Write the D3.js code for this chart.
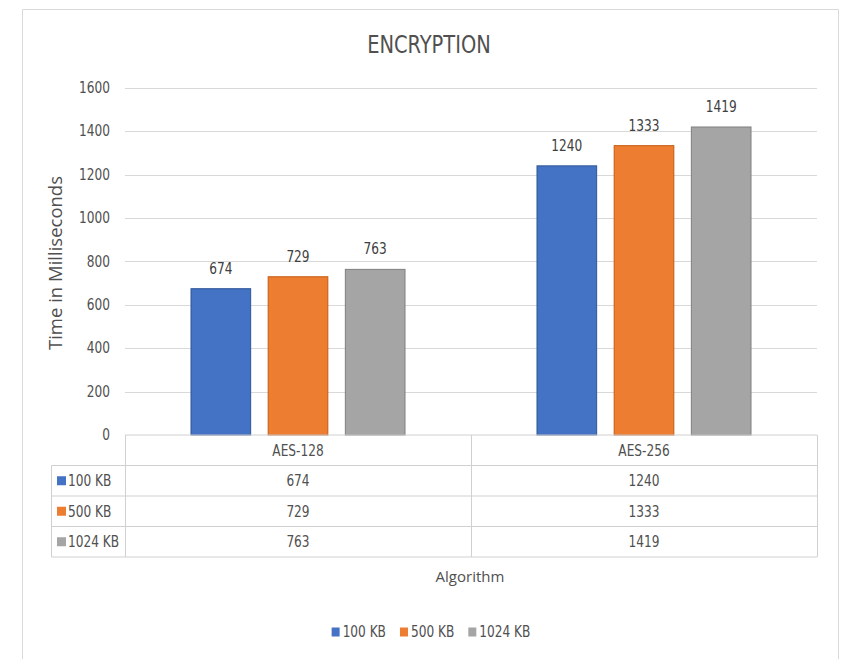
<!DOCTYPE html>
<html>
<head>
<meta charset="utf-8">
<script src="https://cdn.jsdelivr.net/npm/d3@7"></script>
<style>
  body { margin: 0; background: #fff; }
  svg { display: block; }
  .narrow { font-family: "DejaVu Sans Condensed", "Liberation Sans Narrow", sans-serif; font-stretch: condensed; }
  .lbl { fill: #505050; }
  .axis-title { font-family: "Open Sans", "Liberation Sans", sans-serif; fill: #505050; }
</style>
</head>
<body>
<svg id="chart" width="841" height="659"></svg>
<script>
(function () {
  "use strict";

  // data
  const categories = ["AES-128", "AES-256"];
  const seriesNames = ["100 KB", "500 KB", "1024 KB"];
  const values100  = [674, 1240];
  const values500  = [729, 1333];
  const values1024 = [763, 1419];
  const colors  = ["#4472C4", "#ED7D31", "#A5A5A5"];
  const strokes = ["#2F5597", "#C55A11", "#7F7F7F"];

  const series = seriesNames.map((name, i) => ({
    name,
    color: colors[i],
    stroke: strokes[i],
    values: [values100, values500, values1024][i]
  }));

  const svg = d3.select("#chart");

  // outer chart frame
  svg.append("path")
    .attr("d", "M22.5,659 V9.5 H838.5 V659")
    .attr("fill", "none")
    .attr("stroke", "#D9D9D9")
    .attr("stroke-width", 1);

  const left = 125, right = 817, top = 87.7, bottom = 435;

  const x0 = d3.scaleBand().domain(categories).range([left, right]);
  const groupW = 214;
  const x1 = d3.scaleBand().domain(seriesNames).range([0, groupW]).paddingInner(0.227);
  const groupOff = (x0.bandwidth() - groupW) / 2;

  const y = d3.scaleLinear().domain([0, 1600]).range([bottom, top]);

  // gridlines
  svg.append("g")
    .selectAll("line")
    .data(y.ticks(8).filter(d => d > 0))
    .join("line")
    .attr("x1", left).attr("x2", right)
    .attr("y1", d => Math.round(y(d)) + 0.5)
    .attr("y2", d => Math.round(y(d)) + 0.5)
    .attr("stroke", "#D9D9D9");

  // y tick labels
  svg.append("g")
    .selectAll("text")
    .data(y.ticks(8))
    .join("text")
    .attr("class", "narrow lbl")
    .attr("x", 110)
    .attr("y", d => y(d))
    .attr("dy", "0.35em")
    .attr("text-anchor", "end")
    .style("font-size", "15px")
    .text(d => d);

  // bars
  const groups = svg.append("g")
    .selectAll("g")
    .data(series)
    .join("g");

  groups.selectAll("rect")
    .data(s => s.values.map((v, j) => ({ s, v, cat: categories[j] })))
    .join("rect")
    .attr("x", d => x0(d.cat) + groupOff + x1(d.s.name))
    .attr("y", d => y(d.v))
    .attr("width", x1.bandwidth())
    .attr("height", d => y(0) - y(d.v))
    .attr("fill", d => d.s.color)
    .attr("stroke", d => d.s.stroke)
    .attr("stroke-width", 1);

  groups.selectAll("text")
    .data(s => s.values.map((v, j) => ({ s, v, cat: categories[j] })))
    .join("text")
    .attr("class", "narrow")
    .attr("x", d => x0(d.cat) + groupOff + x1(d.s.name) + x1.bandwidth() / 2)
    .attr("y", d => y(d.v) - 15)
    .attr("text-anchor", "middle")
    .style("font-size", "15px")
    .attr("fill", "#404040")
    .text(d => d.v);

  // data table
  const rows = d3.scaleBand().domain(["header"].concat(seriesNames)).range([bottom, 557]);
  const table = svg.append("g").attr("stroke", "#D0D0D0").attr("fill", "none");
  const hl = (x1p, x2p, yp) => table.append("line").attr("x1", x1p).attr("x2", x2p).attr("y1", yp).attr("y2", yp);
  const vl = (xp, y1p, y2p) => table.append("line").attr("x1", xp).attr("x2", xp).attr("y1", y1p).attr("y2", y2p);

  hl(left, right, bottom);
  seriesNames.forEach(n => hl(51.5, right, rows(n)));
  hl(51.5, right, 557);
  vl(51.5, rows(seriesNames[0]), 557);
  vl(left + 0.5, bottom, 557);
  categories.forEach(c => vl(x0(c) + x0.bandwidth() + 0.5, bottom, 557));

  // header row
  svg.append("g")
    .selectAll("text")
    .data(categories)
    .join("text")
    .attr("class", "narrow lbl")
    .attr("x", d => x0(d) + x0.bandwidth() / 2)
    .attr("y", rows("header") + rows.bandwidth() / 2)
    .attr("dy", "0.35em")
    .attr("text-anchor", "middle")
    .style("font-size", "15px")
    .text(d => d);

  // value rows
  const trow = svg.append("g")
    .selectAll("g")
    .data(series)
    .join("g")
    .attr("transform", d => `translate(0,${rows(d.name) + rows.bandwidth() / 2})`);

  trow.append("rect")
    .attr("x", 57).attr("y", -4.5)
    .attr("width", 9).attr("height", 9)
    .attr("fill", d => d.color);

  trow.append("text")
    .attr("class", "narrow lbl")
    .attr("x", 68).attr("dy", "0.35em")
    .style("font-size", "15px")
    .text(d => d.name);

  trow.selectAll("text.val")
    .data(s => s.values.map((v, j) => ({ v, cat: categories[j] })))
    .join("text")
    .attr("class", "val narrow lbl")
    .attr("x", d => x0(d.cat) + x0.bandwidth() / 2)
    .attr("dy", "0.35em")
    .attr("text-anchor", "middle")
    .style("font-size", "15px")
    .text(d => d.v);

  // titles
  svg.append("text")
    .attr("class", "narrow lbl")
    .attr("x", 429).attr("y", 53)
    .attr("text-anchor", "middle")
    .style("font-size", "24px")
    .text("ENCRYPTION");

  svg.append("text")
    .attr("class", "axis-title")
    .attr("transform", "translate(62,263) rotate(-90)")
    .attr("text-anchor", "middle")
    .style("font-size", "18.5px")
    .text("Time in Milliseconds");

  svg.append("text")
    .attr("class", "axis-title")
    .attr("x", 470).attr("y", 577)
    .attr("dy", "0.35em")
    .attr("text-anchor", "middle")
    .style("font-size", "15px")
    .text("Algorithm");

  // legend
  const legend = svg.append("g").attr("transform", "translate(0,632)");
  const items = legend.selectAll("g")
    .data(series)
    .join("g");
  items.append("rect")
    .attr("y", -4.5).attr("width", 8).attr("height", 9)
    .attr("fill", d => d.color);
  items.append("text")
    .attr("class", "narrow lbl")
    .attr("x", 11).attr("dy", "0.35em")
    .style("font-size", "15px")
    .text(d => d.name);

  // the source text is tall and narrow: squeeze glyphs horizontally
  svg.selectAll("text.narrow").each(function () {
    const w = this.getComputedTextLength();
    d3.select(this).attr("textLength", w * 0.9).attr("lengthAdjust", "spacingAndGlyphs");
  });

  let cx = 0;
  const widths = [];
  items.each(function () {
    widths.push(11 + this.querySelector("text").getComputedTextLength());
  });
  const total = d3.sum(widths) + 14 * (widths.length - 1);
  cx = 431 - total / 2;
  items.attr("transform", (d, i) => {
    const t = `translate(${cx},0)`;
    cx += widths[i] + 14;
    return t;
  });
})();
</script>
</body>
</html>
